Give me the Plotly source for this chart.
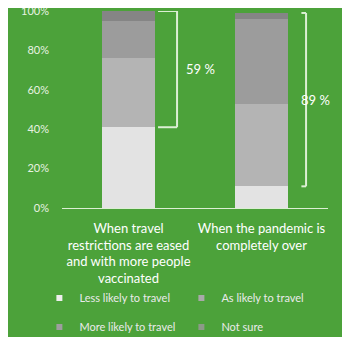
import plotly.graph_objects as go
import numpy as np

categories = ["When travel<br>restrictions are eased<br>and with more people<br>vaccinated",
              "When the pandemic is<br>completely over"]
series_names = ["Less likely to travel", "As likely to travel", "More likely to travel", "Not sure"]
less_likely = [41, 11]
as_likely = [35, 42]
more_likely = [19, 43]
not_sure = [5, 3]
bracket_labels = ["59 %", "89 %"]
y_ticks = [0, 20, 40, 60, 80, 100]
y_tick_labels = ["0%", "20%", "40%", "60%", "80%", "100%"]

series_values = [less_likely, as_likely, more_likely, not_sure]
bar_colors = ["#e3e3e3", "#b4b4b4", "#9c9c9c", "#858585"]
legend_colors = ["#eeeeee", "#a9a9a9", "#9e9e9e", "#8c9a88"]
legend_groups = ["legend", "legend", "legend2", "legend2"]

BG = "#4ca23a"
FONT = "Lato"
LINE = "#dcefd4"

fig = go.Figure()
xi = list(range(len(categories)))
for name, vals, col in zip(series_names, series_values, bar_colors):
    fig.add_trace(go.Bar(x=xi, y=vals, marker=dict(color=col, line=dict(width=0)),
                         width=0.4, showlegend=False, hoverinfo="skip"))
for name, col, lg in zip(series_names, legend_colors, legend_groups):
    fig.add_trace(go.Scatter(x=[None], y=[None], mode="markers", name=name, legend=lg,
                             marker=dict(symbol="square", size=6, color=col)))

# brackets computed from data
cum = np.cumsum(np.array(series_values), axis=0)
bracket_geom = [(0.222, 0.365, 0.52), (1.30, 1.335, 1.015)]
for i, (x0, x1, xt) in enumerate(bracket_geom):
    lo = cum[0][i]
    hi = cum[-1][i]
    for yy in (lo, hi):
        fig.add_shape(type="line", xref="x", yref="y", x0=x0, x1=x1, y0=yy, y1=yy,
                      line=dict(color=LINE, width=2))
    fig.add_shape(type="line", xref="x", yref="y", x0=x1, x1=x1, y0=lo, y1=hi,
                  line=dict(color=LINE, width=2))
    fig.add_annotation(x=xt, y=(lo + hi) / 2, xref="paper", yref="y", text=bracket_labels[i],
                       showarrow=False, font=dict(color="white", size=13, family=FONT))

legend_common = dict(orientation="h", xanchor="left", yanchor="middle",
                     entrywidth=97, entrywidthmode="pixels", itemwidth=30,
                     font=dict(size=11, color="#eaeaea"), bgcolor="rgba(0,0,0,0)",
                     traceorder="normal")

fig.update_layout(
    width=342, height=329,
    paper_bgcolor=BG, plot_bgcolor=BG,
    margin=dict(l=54, r=22, t=3, b=129, autoexpand=False),
    barmode="stack",
    font=dict(family=FONT, color="white"),
    xaxis=dict(tickvals=xi, ticktext=categories, range=[-0.5, 1.5],
               showline=True, linecolor=LINE, linewidth=1, showgrid=False,
               zeroline=False, ticks="", ticklabelstandoff=8, automargin=False,
               tickfont=dict(size=13, color="white")),
    yaxis=dict(range=[0, 100], tickvals=y_ticks, ticktext=y_tick_labels, showgrid=False,
               zeroline=False, showline=False, ticks="", ticklabelstandoff=12, automargin=False,
               ticklabeloverflow="allow",
               tickfont=dict(size=11, color="#e8f2e2")),
    legend=dict(x=-0.085, y=(200 - 290) / 197, **legend_common),
    legend2=dict(x=-0.085, y=(200 - 319) / 197, **legend_common),
)

fig.write_html("out.html")
